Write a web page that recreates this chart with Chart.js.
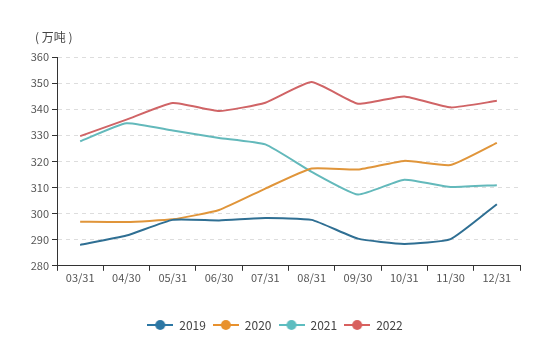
<!DOCTYPE html>
<html lang="zh">
  <head>
    <meta charset="UTF-8" />
    <title>库存</title>
    <style>
      body { margin: 0; background: #fff; }
      #wrap { width: 550px; height: 342px; position: relative; }
    </style>
  </head>
  <body>
    <div id="wrap"><canvas id="chart"></canvas></div>

    <script src="https://cdn.jsdelivr.net/npm/chart.js"></script>
    <script>
      const categories = ["03/31", "04/30", "05/31", "06/30", "07/31", "08/31", "09/30", "10/31", "11/30", "12/31"];
      const years = ["2019", "2020", "2021", "2022"];
      const v2019 = [288.0, 291.6, 297.6, 297.4, 298.3, 297.6, 290.4, 288.4, 290.2, 303.6];
      const v2020 = [296.9, 296.8, 297.8, 301.4, 309.6, 317.3, 316.9, 320.2, 318.6, 327.1];
      const v2021 = [327.7, 334.6, 331.8, 329.0, 326.5, 316.0, 307.3, 313.0, 310.2, 310.9];
      const v2022 = [329.7, 336.0, 342.4, 339.3, 342.5, 350.4, 342.1, 344.9, 340.7, 343.2];
      const yTicks = [280, 290, 300, 310, 320, 330, 340, 350, 360];
      const colors = ["#2c77a4", "#e8912d", "#5dbdc0", "#d8605e"];
      const lineColors = ["#2f6f93", "#e0953a", "#63b9bb", "#d06466"];

      const font = "'Noto Sans CJK SC', 'Noto Sans', sans-serif";

      // legend marker: short line with a dot, like the original
      function marker(color) {
        const c = document.createElement("canvas");
        c.width = 26;
        c.height = 12;
        const g = c.getContext("2d");
        g.strokeStyle = color;
        g.lineWidth = 2;
        g.beginPath();
        g.moveTo(0, 6);
        g.lineTo(26, 6);
        g.stroke();
        g.fillStyle = color;
        g.beginPath();
        g.arc(13, 6, 5, 0, Math.PI * 2);
        g.fill();
        return c;
      }

      const series = [v2019, v2020, v2021, v2022];
      const datasets = years.map((y, i) => ({
        label: y,
        data: series[i],
        borderColor: lineColors[i],
        backgroundColor: colors[i],
        borderWidth: 2,
        pointRadius: 0,
        tension: 0.15,
        pointStyle: marker(colors[i]),
      }));

      const unitLabel = {
        id: "unitLabel",
        afterLayout(chart) {
          // nudge the legend a bit to the right
          chart.legend.left += 30;
        },
        afterDraw(chart) {
          const ctx = chart.ctx;
          ctx.save();
          ctx.font = "12px " + font;
          ctx.fillStyle = "#444";
          ctx.textAlign = "left";
          ctx.textBaseline = "middle";
          ctx.fillText("( 万吨 )", chart.chartArea.left - 22, chart.chartArea.top - 20);
          ctx.restore();
        },
      };

      new Chart(document.getElementById("chart"), {
        type: "line",
        data: { labels: categories, datasets: datasets },
        plugins: [unitLabel],
        options: {
          responsive: true,
          maintainAspectRatio: false,
          animation: false,
          layout: { padding: { top: 57, left: 0, right: 30, bottom: 1 } },
          plugins: {
            tooltip: { enabled: false },
            legend: {
              position: "bottom",
              labels: {
                usePointStyle: true,
                pointStyleWidth: 26,
                padding: 7,
                color: "#444",
                font: { family: font, size: 12 },
              },
            },
          },
          scales: {
            x: {
              offset: true,
              afterFit(scale) { scale.height += 28; },
              grid: {
                offset: true,
                drawOnChartArea: false,
                drawTicks: true,
                tickLength: 5,
                tickColor: "#333",
              },
              border: { color: "#333", width: 1 },
              ticks: {
                color: "#555",
                font: { family: font, size: 11 },
                padding: 0,
                maxRotation: 0,
              },
            },
            y: {
              min: 280,
              max: 360,
              afterFit(scale) { scale.width = 57; },
              afterBuildTicks(scale) { scale.ticks = yTicks.map(v => ({ value: v })); },
              grid: {
                color: "#dddddd",
                tickColor: "#333",
                tickLength: 5,
              },
              border: { color: "#333", width: 1, dash: [4, 4] },
              ticks: {
                color: "#555",
                font: { family: font, size: 11 },
                padding: 3,
              },
            },
          },
        },
      });
    </script>
  </body>
</html>
